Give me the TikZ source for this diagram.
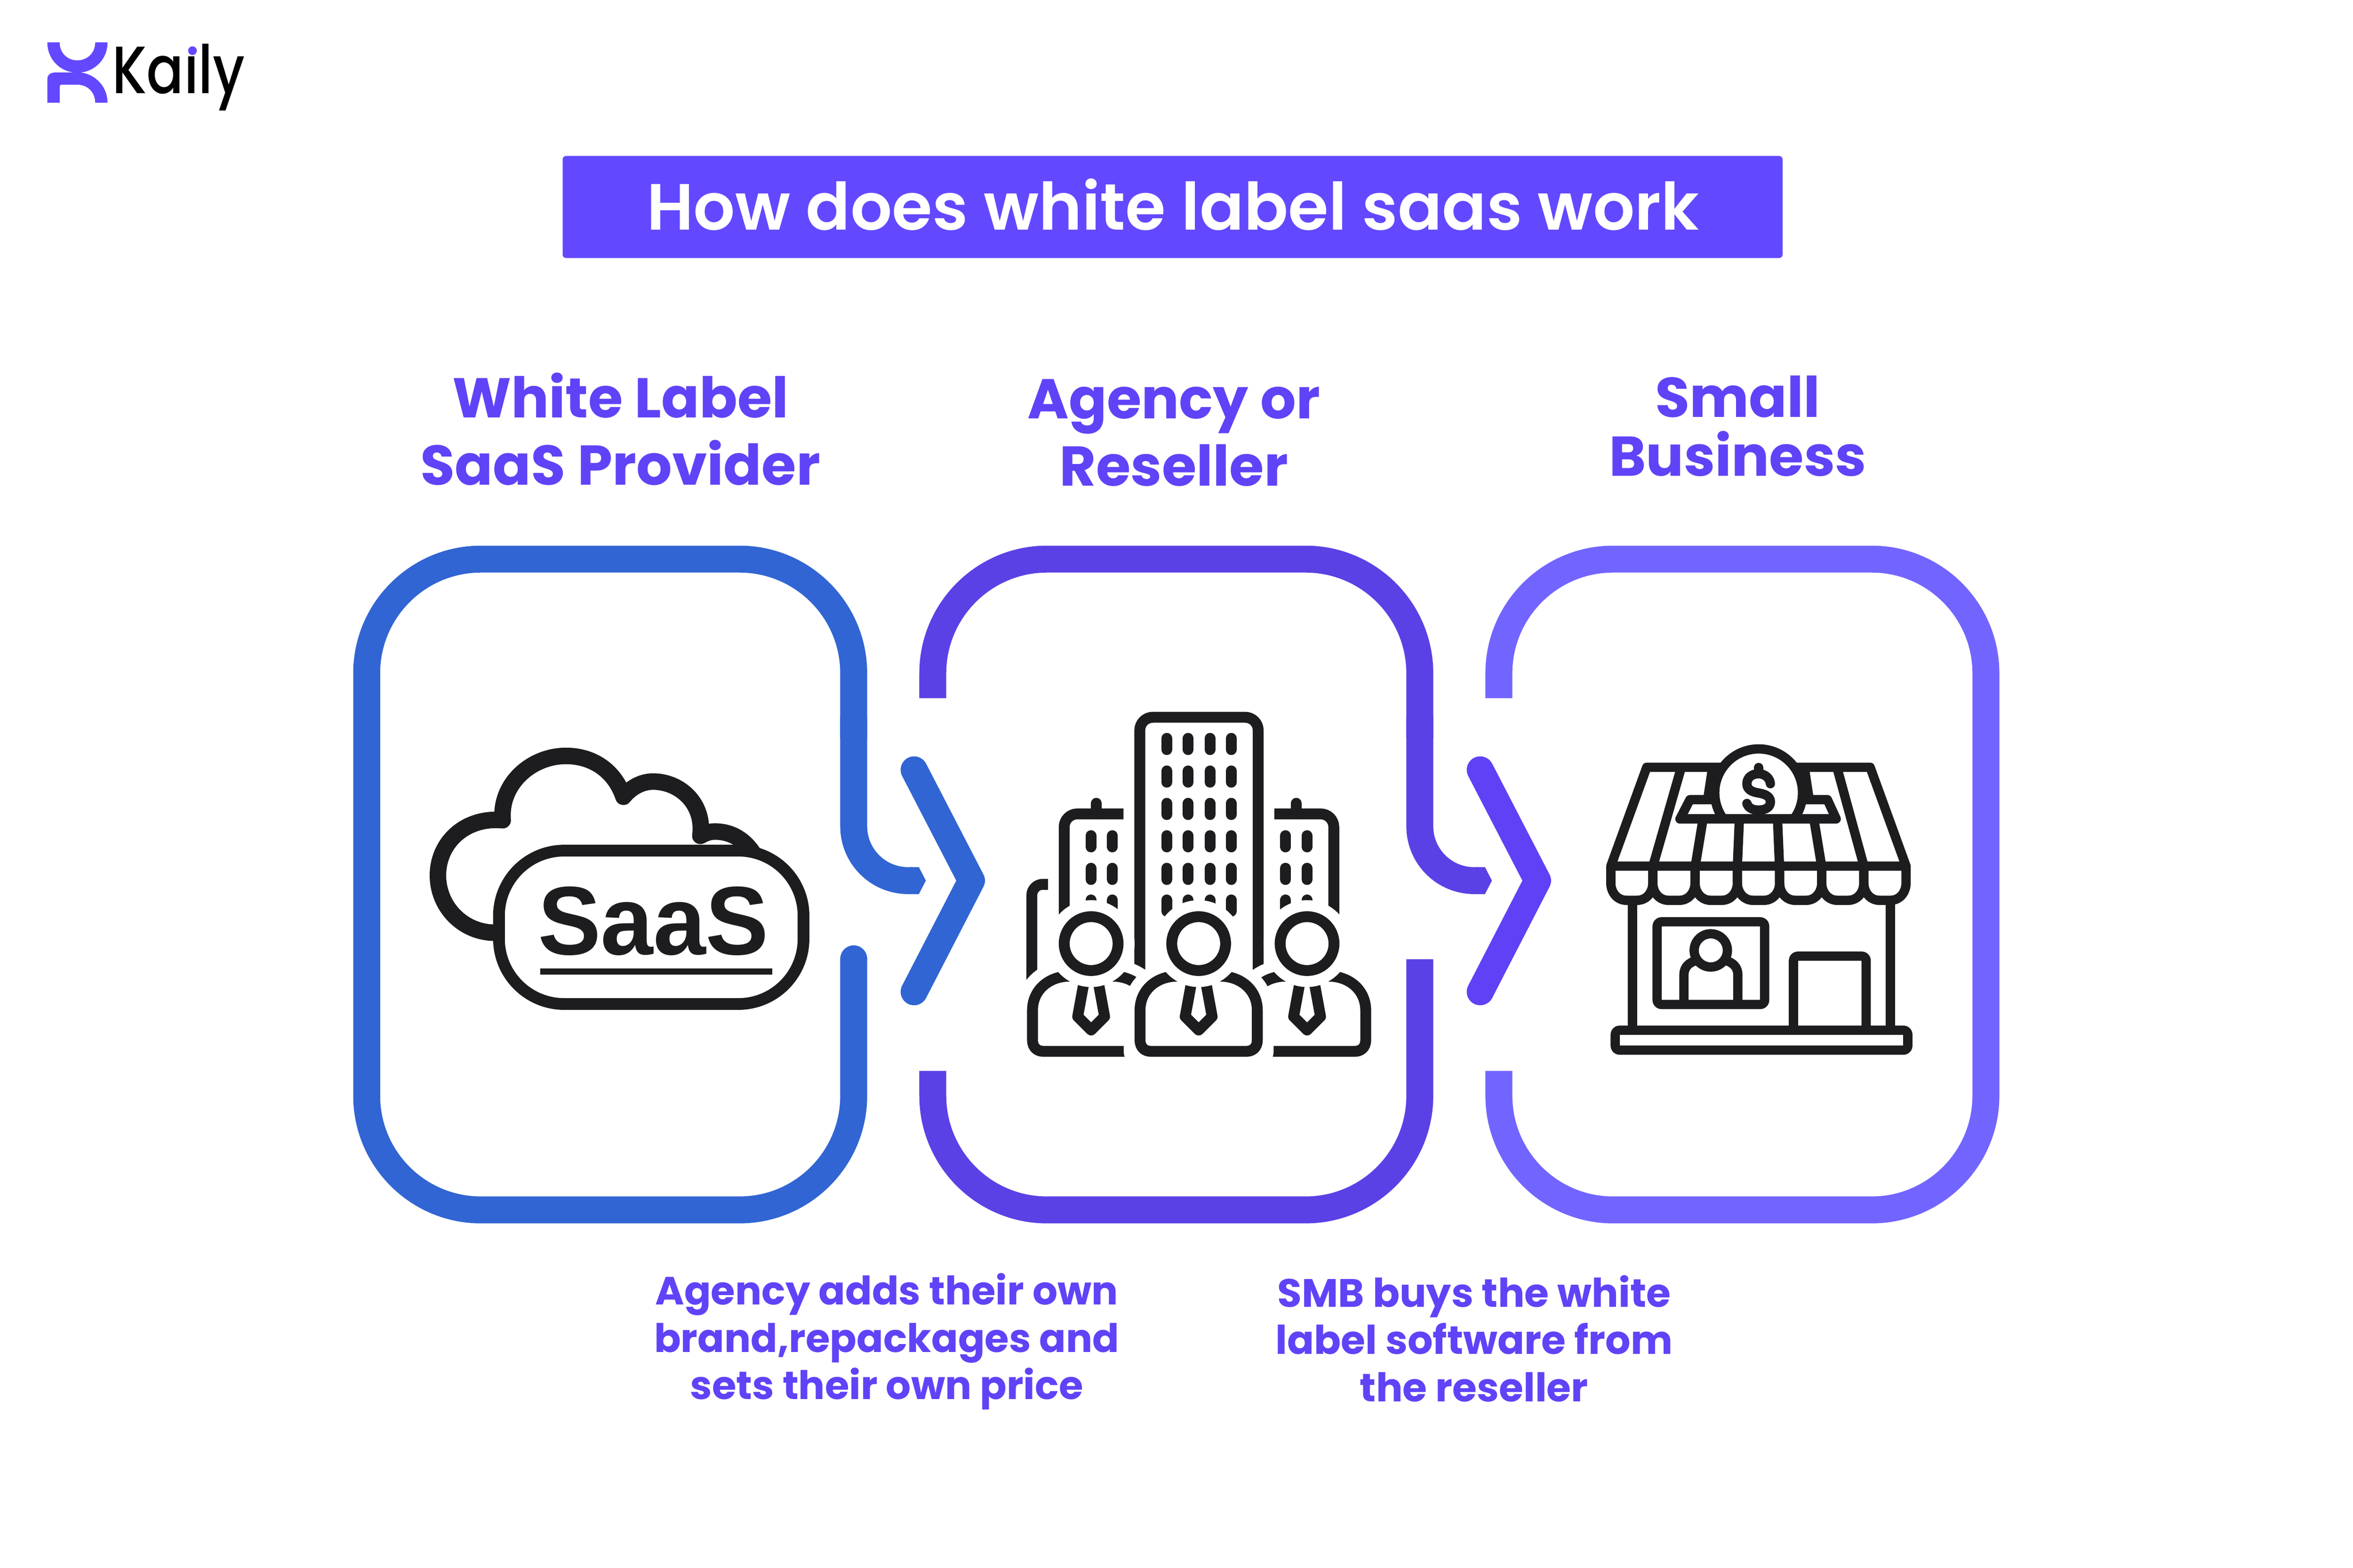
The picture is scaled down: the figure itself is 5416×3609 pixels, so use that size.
\documentclass[tikz,border=0pt]{standalone}
\usepackage{fontspec}
\setmainfont{Liberation Sans}
\newfontfamily\pop{Poppins}
\newfontfamily\popsemi{Poppins SemiBold}
\newfontfamily\popmed{Poppins Medium}
\definecolor{brand}{HTML}{6249FF}
\definecolor{txtv}{HTML}{5F43F7}
\definecolor{boxa}{HTML}{3165D3}
\definecolor{boxb}{HTML}{5A41E5}
\definecolor{boxc}{HTML}{7265FF}
\definecolor{chevb}{HTML}{6141F5}
\definecolor{ink}{HTML}{1D1D1F}
\tikzset{
 frame/.style={line width=6.2pt,rounded corners=26.3pt},
 feed/.style={line width=6.2pt,rounded corners=12.5pt},
 chev/.style={line width=6.2pt,line cap=round,line join=round},
 head/.style={font=\pop\bfseries\fontsize{12.9}{15.5}\selectfont,text=txtv,align=center,inner sep=0pt},
 note/.style={font=\pop\bfseries\fontsize{9.05}{10.9}\selectfont,text=txtv,align=center,inner sep=0pt},
 ico/.style={draw=ink,line width=2.5pt},
 win/.style={draw=ink,line width=2.5pt,line cap=round},
 shop/.style={draw=ink,line width=2.14pt,line join=round},
}
% person: #1 head centre x
\newcommand{\persona}[1]{%
 \begin{scope}[shift={(#1,2172)}]
  \path[fill=white,draw=white,line width=7.5pt,line join=round] (-135,154) .. controls (-135,105) and (-95,75) .. (-50,75)--(50,75) .. controls (95,75) and (135,105) .. (135,154)--(135,248)--(-135,248)--cycle;
  \draw[ico] (-135,154) .. controls (-135,105) and (-95,75) .. (-50,75)--(50,75) .. controls (95,75) and (135,105) .. (135,154)--(135,222) .. controls (135,240) and (123,248) .. (110,248)--(-110,248) .. controls (-123,248) and (-135,240) .. (-135,222)--cycle;
  \draw[ico,line join=round] (-13,70)--(-31,168)--(0,199)--(31,168)--(13,70);
  \fill[white] (0,0) circle[radius=10pt];
  \draw[ico] (0,0) circle[radius=6.2pt];
 \end{scope}}
\begin{document}
\begin{tikzpicture}[x=0.1pt,y=-0.1pt]
\useasboundingbox (0,0) rectangle (5416,3609);
\fill[white] (0,0) rectangle (5416,3609);
% logo
\fill[brand] (109,97.7)--(137.3,97.7) .. controls (137.3,122) and (155,139) .. (178,139) .. controls (201,139) and (219.2,122) .. (219.2,97.7)--(247.5,97.7) .. controls (247.5,135) and (220,163) .. (186,167) .. controls (220,171) and (247.5,200) .. (247.5,236.7)--(219.2,236.7) .. controls (219.2,212) and (201,195) .. (178,195)--(140,195)--(137.3,198)--(137.3,236.7)--(109,236.7)--(109,182) .. controls (109,173) and (116,167) .. (126,167)--(170,167) .. controls (136,163) and (109,135) .. (109,97.7)--cycle;
\node[anchor=base west,inner sep=0pt,font=\popmed\fontsize{15.4}{18}\selectfont,text=black] (logotext) at (256,215) {\scalebox{0.82}[1]{Kaily}};
\fill[white] (425,90) rectangle (460,128);
\fill[brand] (443,116.7) circle[radius=1pt];
% title
\fill[brand,rounded corners=0.8pt] (1295,359) rectangle (4103,594);
\node[anchor=base,inner sep=0pt,font=\popsemi\fontsize{15.05}{20}\selectfont,text=white] (title) at (2700,529) {How does white label saas work};
% headings
\node[head] (h1) at (1428,988) {White Label\\SaaS Provider};
\node[head] (h2) at (2702,996) {Agency or\\Reseller};
\node[head,font=\pop\bfseries\fontsize{12.9}{13.5}\selectfont] (h3) at (4000,981) {Small\\Business};
% frames
\draw[frame,boxa] (1965,2207)--(1965,2785)--(844,2785)--(844,1287)--(1965,1287)--(1965,1700);
\fill[boxa] (1965,2207) circle[radius=3.1pt];
\draw[feed,boxa] (1965,1650)--(1965,2027)--(2100,2027);
\fill[boxa] (2095,1996)--(2115,1996)--(2131,2027)--(2115,2058)--(2095,2058)--cycle;
\draw[chev,boxa] (2104,1772)--(2236,2027)--(2104,2283);
\draw[frame,boxb] (2147,1607)--(2147,1287)--(3268,1287)--(3268,1700);
\draw[feed,boxb] (3268,1650)--(3268,2027)--(3403,2027);
\fill[boxb] (3398,1996)--(3418,1996)--(3434,2027)--(3418,2058)--(3398,2058)--cycle;
\draw[frame,boxb] (3268,2208)--(3268,2785)--(2147,2785)--(2147,2465);
\draw[chev,chevb] (3407,1772)--(3539,2027)--(3407,2283);
\draw[frame,boxc] (3450,1607)--(3450,1287)--(4571,1287)--(4571,2785)--(3450,2785)--(3450,2465);
% notes
\node[note] (n1) at (2041,3088) {Agency adds their own\\brand,repackages and\\sets their own price};
\node[note,font=\pop\bfseries\fontsize{9.12}{10.9}\selectfont] (n2) at (3393,3081) {SMB buys the white\\label software from\\the reseller};
% SaaS icon
\draw[ink,line width=3.8pt,line cap=round,line join=round] (1140,2147) .. controls (1065,2147) and (1008,2087) .. (1008,2015) .. controls (1008,1940) and (1070,1880) .. (1157,1888) .. controls (1150,1805) and (1222,1740) .. (1303,1740) .. controls (1365,1740) and (1415,1775) .. (1435,1834) .. controls (1450,1815) and (1475,1799) .. (1503,1799) .. controls (1565,1799) and (1622,1850) .. (1612,1924) .. controls (1625,1917) and (1635,1914) .. (1645,1914) .. controls (1690,1914) and (1725,1940) .. (1745,1985);
\draw[ink,fill=white,line width=2.7pt,rounded corners=15pt] (1148.5,1958) rectangle (1849.5,2311);
\fill[ink] (1243,2229) rectangle (1777,2243);
\node[anchor=base,inner sep=0pt,font=\bfseries\fontsize{22.4}{24}\selectfont,text=ink] (saas) at (1504,2197) {\scalebox{0.97}[1]{SaaS}};
% buildings
\draw[ico,rounded corners=3pt] (2623.5,2300)--(2623.5,1651)--(2896,1651)--(2896,2300);
\draw[ico,rounded corners=3pt] (2449.5,2200)--(2449.5,1873.5)--(2586,1873.5);
\draw[win] (2523.5,1849)--(2523.5,1873.5);
\draw[ico,rounded corners=3pt] (3070,2200)--(3070,1873.5)--(2933,1873.5);
\draw[win] (2983.6,1849)--(2983.6,1873.5);
\draw[ico,rounded corners=2.5pt] (2412,2035.6)--(2375,2035.6)--(2375,2300);
\foreach \cx in {2685.5,2735,2785,2834}{\foreach \cy in {1699.5,1774.5,1849,1923.5,1998.5,2071.5}{\draw[win] (\cx,\cy)--(\cx,\cy+26);}}
\foreach \cx in {2511,2560.6,2959,3008.5}{\foreach \cy in {1923.5,1998.5,2071.5}{\draw[win] (\cx,\cy)--(\cx,\cy+26);}}
\persona{2511.5}
\persona{3008.5}
\persona{2759}
% shop
\begin{scope}[shift={(3650,1680)},scale=0.5102]
 \draw[shop] (275,169)--(1283,169)--(1445,615)--(113,615)--cycle;
 \draw[shop] (431,169)--(303,615);
 \draw[shop] (1133,169)--(1255,615);
 \draw[shop] (529,402)--(494,615);
 \draw[shop] (693,402)--(684,615);
 \draw[shop] (865,402)--(874,615);
 \draw[shop] (1029,402)--(1064,615);
 \fill[white] (470,315)--(1090,315)--(1130,402)--(425,402)--cycle;
 \draw[shop] (470,315)--(1090,315)--(1130,402)--(425,402)--cycle;
 \fill[ink] (551,169)--(531,300)--(620,330)--(660,169)--cycle;
 \fill[ink] (1007,169)--(1027,300)--(940,330)--(900,169)--cycle;
 \begin{scope}
  \clip (400,0) rectangle (1200,402);
  \draw[shop,fill=white] (780,284) circle[radius=198];
 \end{scope}
 \draw[shop] (425,402)--(1130,402);
 \draw[shop,line cap=round] (833,243) .. controls (830,215) and (805,198) .. (780,198) .. controls (750,198) and (727,215) .. (727,243) .. controls (727,270) and (750,280) .. (780,285) .. controls (810,290) and (833,300) .. (833,325) .. controls (833,350) and (810,362) .. (780,362) .. controls (750,362) and (732,350) .. (727,332);
 \draw[shop,line cap=round] (780,170)--(780,198);
 \foreach \xa/\xb in {113/302.5,302.5/493,493/684,684/874.5,874.5/1064.5,1064.5/1254.5,1254.5/1445}{
  \draw[shop] (\xa,615)--(\xa,690) .. controls (\xa,735) and (\xa+30,769) .. (\xa+70,769)--(\xb-70,769) .. controls (\xb-30,769) and (\xb,735) .. (\xb,690)--(\xb,615);
 }
 \draw[shop] (211,769)--(211,1355);
 \draw[shop] (1374,769)--(1374,1355);
 \draw[shop,rounded corners=1pt] (133,1355) rectangle (1453,1445);
 \draw[shop,rounded corners=1pt] (322,866) rectangle (807,1239);
 \draw[shop,rounded corners=1pt] (937,1355)--(937,1021)--(1265,1021)--(1265,1355);
 \draw[shop] (443,1239)--(443,1105) .. controls (443,1070) and (465,1050) .. (500,1040);
 \draw[shop] (686,1239)--(686,1105) .. controls (686,1070) and (664,1050) .. (630,1040);
 \draw[shop,fill=white] (564,995) circle[radius=75];
\end{scope}
\end{tikzpicture}
\end{document}
